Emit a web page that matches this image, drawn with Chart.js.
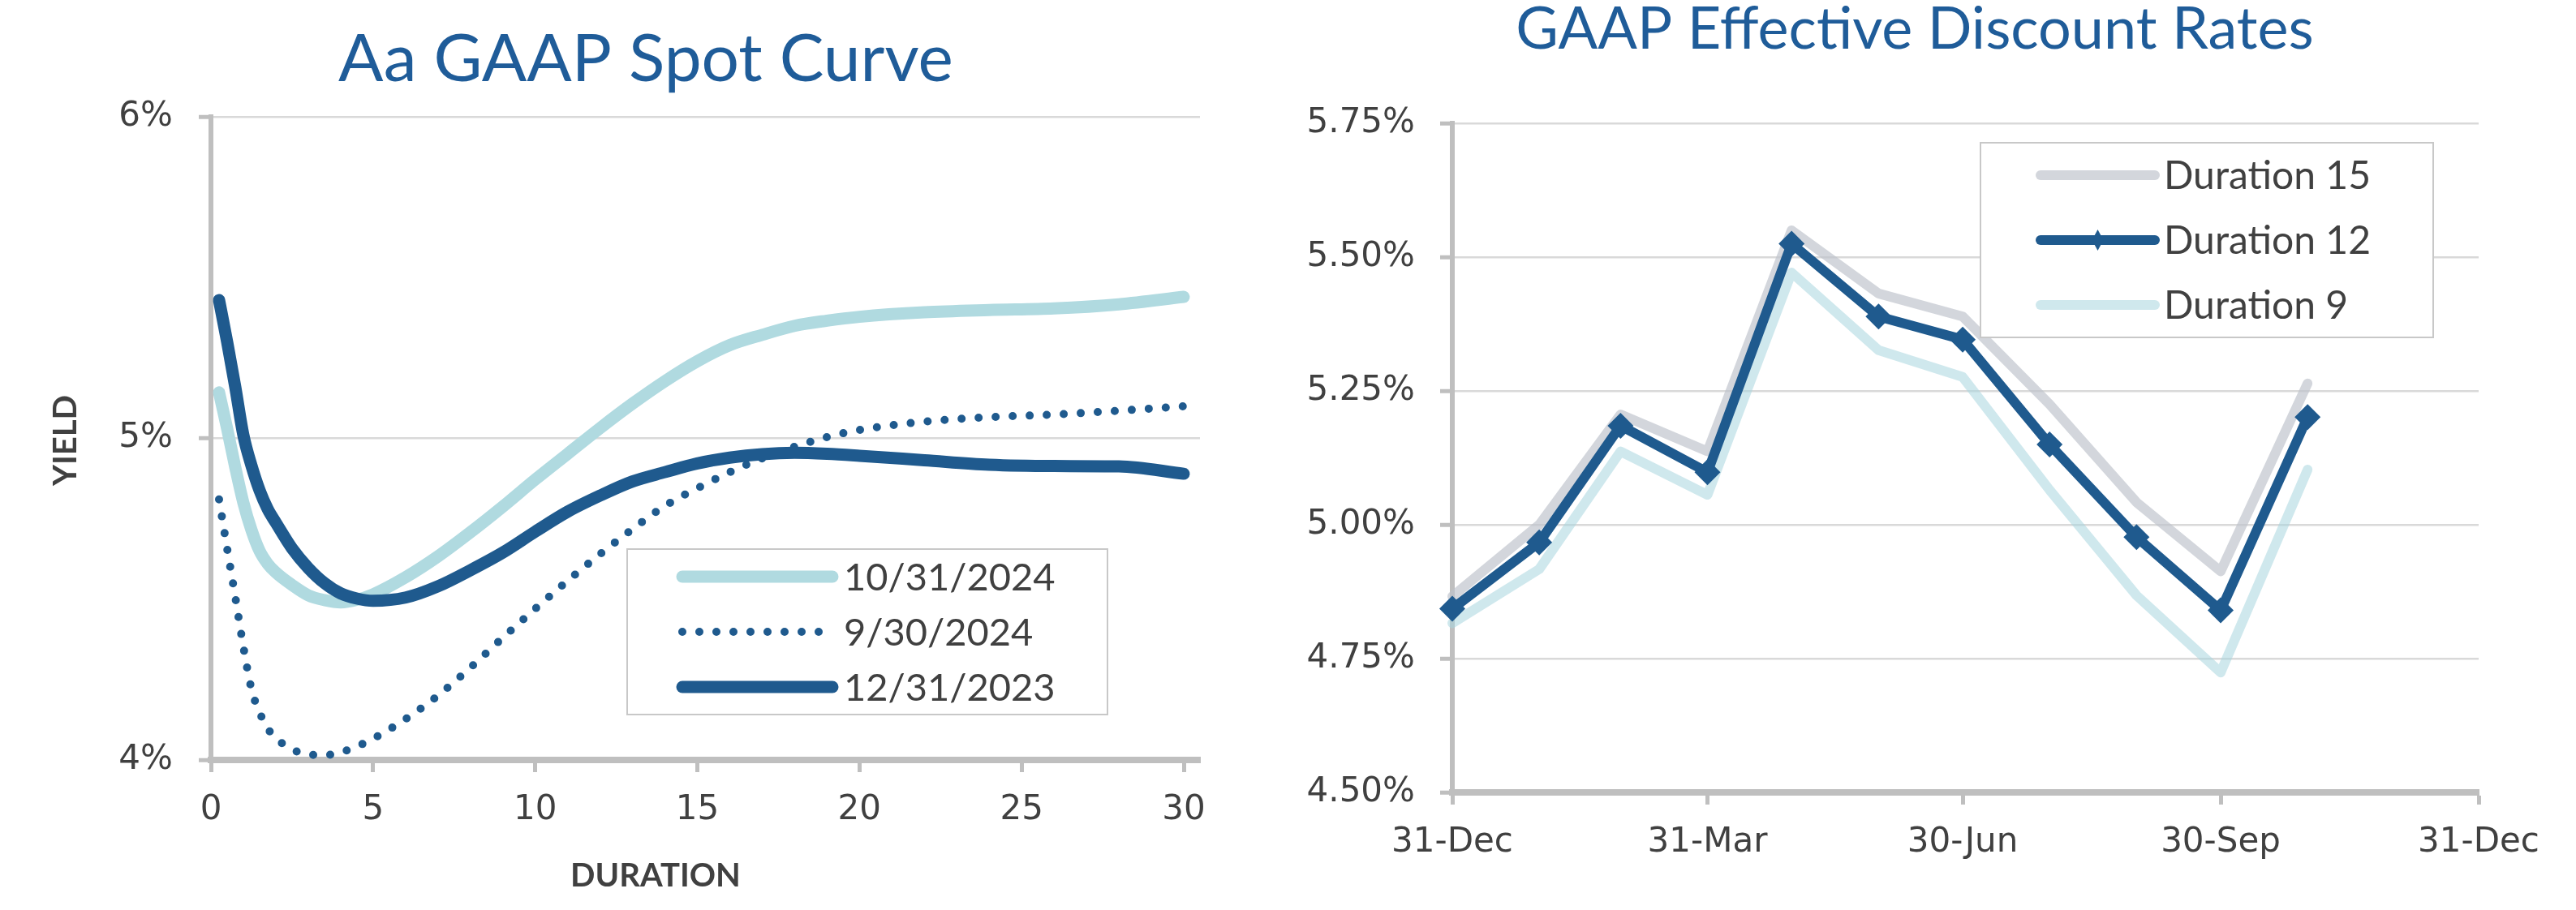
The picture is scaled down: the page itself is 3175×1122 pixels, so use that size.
<!DOCTYPE html>
<html>
<head>
<meta charset="utf-8">
<title>Aa GAAP Spot Curve / GAAP Effective Discount Rates</title>
<script src="https://cdn.jsdelivr.net/npm/chart.js@4.4.1/dist/chart.umd.min.js"></script>
<style>
  html, body { margin: 0; padding: 0; background: #ffffff; }
  #page { position: relative; width: 3175px; height: 1122px; overflow: hidden; }
  canvas { position: absolute; top: 0; }
  #spot-curve { left: 0; }
  #discount-rates { left: 1540px; }
</style>
</head>
<body>
<div id="page">
  <canvas id="spot-curve" width="1520" height="1122"></canvas>
  <canvas id="discount-rates" width="1635" height="1122"></canvas>
</div>
<script>
'use strict';

// Aa GAAP spot curve, yield (%) by duration (years)
const durations = [0.25, 0.5, 0.75, 1, 1.25, 1.5, 1.75, 2, 2.5, 3, 3.5, 4, 4.5, 5,
  6, 7, 8, 9, 10, 11, 12, 13, 14, 15, 16, 17, 18, 19, 20, 22, 24, 26, 28, 30];
const spot20241031 = [5.143, 5.03, 4.91, 4.80, 4.715, 4.65, 4.61, 4.583, 4.544, 4.512, 4.497, 4.49, 4.498, 4.515,
  4.568, 4.633, 4.708, 4.788, 4.872, 4.952, 5.032, 5.108, 5.178, 5.24, 5.29, 5.322, 5.35, 5.366, 5.378, 5.392, 5.399, 5.404, 5.417, 5.44];
const spot20240930 = [4.81, 4.657, 4.507, 4.352, 4.22, 4.148, 4.098, 4.068, 4.033, 4.017, 4.015, 4.024, 4.042, 4.066,
  4.127, 4.20, 4.287, 4.38, 4.47, 4.557, 4.64, 4.718, 4.79, 4.845, 4.895, 4.938, 4.974, 5.004, 5.026, 5.052, 5.066, 5.074, 5.086, 5.10];
const spot20231231 = [5.43, 5.30, 5.16, 5.01, 4.915, 4.838, 4.78, 4.738, 4.658, 4.597, 4.55, 4.518, 4.502, 4.495,
  4.505, 4.54, 4.59, 4.645, 4.71, 4.772, 4.822, 4.866, 4.895, 4.922, 4.94, 4.951, 4.955, 4.952, 4.946, 4.932, 4.918, 4.914, 4.913, 4.89];
const spotTicks = [0, 5, 10, 15, 20, 25, 30];

// GAAP effective discount rates (%) at month ends
const monthEnds = ['2023-12-31', '2024-01-31', '2024-02-29', '2024-03-31', '2024-04-30', '2024-05-31',
  '2024-06-30', '2024-07-31', '2024-08-31', '2024-09-30', '2024-10-31'];
const rateDur15 = [4.866, 5.00, 5.206, 5.137, 5.55, 5.432, 5.389, 5.225, 5.042, 4.913, 5.264];
const rateDur12 = [4.843, 4.967, 5.185, 5.098, 5.525, 5.389, 5.346, 5.15, 4.977, 4.84, 5.201];
const rateDur9 = [4.816, 4.917, 5.137, 5.056, 5.471, 5.326, 5.276, 5.065, 4.868, 4.724, 5.103];
const quarterEnds = ['2023-12-31', '2024-03-31', '2024-06-30', '2024-09-30', '2024-12-31'];
const quarterLabels = ['31-Dec', '31-Mar', '30-Jun', '30-Sep', '31-Dec'];

const DARK = '#1F5A8E';
const TITLE_BLUE = '#1F5C99';
const TEXT = '#404040';
const AXIS = '#BFBFBF';
const GRID = '#D9D9D9';
const TICK_FONT = { family: 'DejaVu Sans', size: 42 };

function dayOf(d) {
  return Math.round((Date.parse(d) - Date.parse(monthEnds[0])) / 86400000);
}
function pairs(xs, ys) {
  return xs.map((x, i) => ({ x: x, y: ys[i] }));
}

// free text (titles, axis names) drawn on the chart canvas
function textPlugin(items) {
  return {
    id: 'staticText',
    afterDraw(chart) {
      const ctx = chart.ctx;
      items.forEach(item => {
        ctx.save();
        ctx.font = item.font;
        ctx.fillStyle = item.color;
        ctx.textAlign = 'center';
        ctx.textBaseline = item.baseline || 'alphabetic';
        ctx.translate(item.x, item.y);
        if (item.rotate) ctx.rotate(item.rotate);
        ctx.fillText(item.text, 0, 0);
        ctx.restore();
      });
    }
  };
}

// boxed legend inside the plot, like the spreadsheet one
function boxLegend(box) {
  return {
    id: 'boxLegend',
    afterDraw(chart) {
      const ctx = chart.ctx;
      ctx.save();
      ctx.fillStyle = '#ffffff';
      ctx.fillRect(box.left, box.top, box.width, box.height);
      ctx.strokeStyle = '#C8C8C8';
      ctx.lineWidth = 2;
      ctx.strokeRect(box.left, box.top, box.width, box.height);
      chart.data.datasets.forEach((ds, i) => {
        const y = box.rows[i];
        ctx.beginPath();
        ctx.lineCap = 'round';
        ctx.strokeStyle = ds.borderColor;
        ctx.lineWidth = ds.borderWidth;
        ctx.setLineDash(ds.borderDash || []);
        ctx.moveTo(box.lineStart, y);
        ctx.lineTo(box.lineEnd, y);
        ctx.stroke();
        ctx.setLineDash([]);
        if (ds.pointRadius > 0 && Chart.helpers && Chart.helpers.drawPointLegend) {
          ctx.fillStyle = ds.borderColor;
          Chart.helpers.drawPointLegend(ctx, { pointStyle: ds.pointStyle, radius: 13, rotation: 0, borderWidth: 0 },
            (box.lineStart + box.lineEnd) / 2, y, 14);
        }
        ctx.fillStyle = TEXT;
        ctx.font = box.font;
        ctx.textAlign = 'left';
        ctx.textBaseline = 'middle';
        ctx.fillText(ds.label, box.textX, y + box.textShift);
      });
      ctx.restore();
    }
  };
}

// ---------- left: Aa GAAP Spot Curve ----------
new Chart(document.getElementById('spot-curve'), {
  type: 'line',
  data: {
    datasets: [{
      label: '10/31/2024',
      data: pairs(durations, spot20241031),
      borderColor: '#B0DAE0',
      borderWidth: 15,
      borderCapStyle: 'round',
      pointRadius: 0,
      cubicInterpolationMode: 'monotone',
      order: 3
    }, {
      label: '9/30/2024',
      data: pairs(durations, spot20240930),
      borderColor: DARK,
      borderWidth: 10,
      borderDash: [0, 21],
      borderCapStyle: 'round',
      pointRadius: 0,
      cubicInterpolationMode: 'monotone',
      order: 2
    }, {
      label: '12/31/2023',
      data: pairs(durations, spot20231231),
      borderColor: DARK,
      borderWidth: 15,
      borderCapStyle: 'round',
      pointRadius: 0,
      cubicInterpolationMode: 'monotone',
      order: 1
    }]
  },
  options: {
    responsive: false,
    animation: false,
    events: [],
    layout: { padding: { left: 0, right: 41, top: 144, bottom: 0 } },
    scales: {
      x: {
        type: 'linear',
        min: 0,
        max: 30.5,
        afterBuildTicks: axis => { axis.ticks = spotTicks.map(v => ({ value: v })); },
        afterFit: axis => { axis.height = 185; },
        grid: { drawOnChartArea: false, drawTicks: true, tickLength: 15, tickColor: AXIS, tickWidth: 5 },
        border: { display: true, color: AXIS, width: 8 },
        ticks: { font: TICK_FONT, color: TEXT, padding: 22, maxRotation: 0 }
      },
      y: {
        min: 4,
        max: 6,
        afterFit: axis => { axis.width = 260; },
        grid: { color: GRID, lineWidth: 2.5, tickLength: 15, tickColor: AXIS, tickWidth: 5 },
        border: { display: true, color: AXIS, width: 6 },
        ticks: { stepSize: 1, font: TICK_FONT, color: TEXT, padding: 32, callback: v => v + '%' }
      }
    },
    plugins: {
      legend: { display: false },
      title: { display: false },
      tooltip: { enabled: false }
    }
  },
  plugins: [
    boxLegend({ left: 773, top: 677, width: 592, height: 204, rows: [711, 779, 847],
      lineStart: 841, lineEnd: 1026, textX: 1040, textShift: 2, font: '47px Lato' }),
    textPlugin([
      { text: 'Aa GAAP Spot Curve', x: 796, y: 100, font: '82px Lato', color: TITLE_BLUE },
      { text: 'YIELD', x: 81, y: 543, rotate: -Math.PI / 2, baseline: 'middle', font: 'bold 40px Lato', color: TEXT },
      { text: 'DURATION', x: 808, y: 1080, baseline: 'middle', font: 'bold 40px Lato', color: TEXT }
    ])
  ]
});

// ---------- right: GAAP Effective Discount Rates ----------
const monthDays = monthEnds.map(dayOf);
const quarterDays = quarterEnds.map(dayOf);

new Chart(document.getElementById('discount-rates'), {
  type: 'line',
  data: {
    datasets: [{
      label: 'Duration 15',
      data: pairs(monthDays, rateDur15),
      borderColor: 'rgba(190, 195, 204, 0.68)',
      borderWidth: 12,
      borderCapStyle: 'round',
      borderJoinStyle: 'round',
      pointRadius: 0,
      order: 3
    }, {
      label: 'Duration 12',
      data: pairs(monthDays, rateDur12),
      borderColor: DARK,
      backgroundColor: DARK,
      borderWidth: 12,
      borderCapStyle: 'round',
      borderJoinStyle: 'round',
      pointStyle: 'rectRot',
      pointRadius: 16,
      pointBorderWidth: 0,
      pointBackgroundColor: DARK,
      order: 1
    }, {
      label: 'Duration 9',
      data: pairs(monthDays, rateDur9),
      borderColor: 'rgba(168, 214, 223, 0.55)',
      borderWidth: 12,
      borderCapStyle: 'round',
      borderJoinStyle: 'round',
      pointRadius: 0,
      order: 2
    }]
  },
  options: {
    responsive: false,
    animation: false,
    events: [],
    clip: false,
    layout: { padding: { left: 0, right: 120, top: 152, bottom: 0 } },
    scales: {
      x: {
        type: 'linear',
        min: 0,
        max: quarterDays[quarterDays.length - 1],
        afterBuildTicks: axis => { axis.ticks = quarterDays.map(v => ({ value: v })); },
        afterFit: axis => { axis.height = 145; },
        grid: { drawOnChartArea: false, drawTicks: true, tickLength: 15, tickColor: AXIS, tickWidth: 5 },
        border: { display: true, color: AXIS, width: 8 },
        ticks: { font: TICK_FONT, color: TEXT, padding: 22, maxRotation: 0,
          callback: (v, i) => quarterLabels[i] }
      },
      y: {
        min: 4.5,
        max: 5.75,
        afterFit: axis => { axis.width = 250; },
        grid: { color: GRID, lineWidth: 2.5, tickLength: 15, tickColor: AXIS, tickWidth: 5 },
        border: { display: true, color: AXIS, width: 6 },
        ticks: { stepSize: 0.25, font: TICK_FONT, color: TEXT, padding: 31, callback: v => v.toFixed(2) + '%' }
      }
    },
    plugins: {
      legend: { display: false },
      title: { display: false },
      tooltip: { enabled: false }
    }
  },
  plugins: [
    boxLegend({ left: 901, top: 176, width: 558, height: 240, rows: [216, 296, 376],
      lineStart: 975, lineEnd: 1116, textX: 1127, textShift: 2, font: '48px Lato' }),
    textPlugin([
      { text: 'GAAP Effective Discount Rates', x: 820, y: 60, font: '72px Lato', color: TITLE_BLUE }
    ])
  ]
});
</script>
</body>
</html>
